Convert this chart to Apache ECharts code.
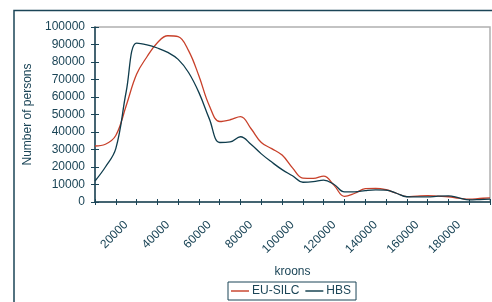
<html>
<head>
    <meta charset="utf-8" />
    <script src="https://cdn.jsdelivr.net/npm/echarts@6/dist/echarts.min.js"></script>
</head>
<body style="margin:0">
    <div id="main" style="width:492px;height:302px;"></div>
    <script>
        // income in kroons, one point every 5000
        var kroons = ['5000','10000','15000','20000','25000','30000','35000','40000','45000','50000',
            '55000','60000','65000','70000','75000','80000','85000','90000','95000','100000',
            '105000','110000','115000','120000','125000','130000','135000','140000','145000','150000',
            '155000','160000','165000','170000','175000','180000','185000','190000','195000'];
        var euSilc = [32000,33000,38000,55000,73000,83000,91000,95000,94500,86500,
            72000,55000,46000,47000,48800,42000,34000,30500,26800,19500,
            13600,13500,14800,9500,3200,5000,7600,7800,7000,5000,
            3100,3400,3600,3300,3000,2200,1600,2000,2400];
        var hbs = [12000,20000,30500,63000,90800,89800,88000,85500,81500,74000,
            62500,47500,34000,34300,37300,33000,27500,22800,18500,15000,
            11300,11600,12500,10000,5800,5800,6500,6900,6800,5000,
            3000,2900,2900,3300,3500,2400,1200,1400,1700];

        var textColor = '#1b4557';
        var axisColor = '#1b4557';

        function tickEvery(index) { return index % 2 === 0; }
        function labelEvery(index, value) {
            var v = Number(value);
            return v % 20000 === 0 && v <= 180000;
        }

        var myChart = echarts.init(document.getElementById('main'));
        var option = {
            animation: false,
            textStyle: { fontFamily: 'Liberation Sans, Arial, sans-serif' },
            graphic: [{
                type: 'rect',
                shape: { x: 14, y: 10.5, width: 600, height: 400 },
                style: { fill: 'none', stroke: axisColor, lineWidth: 1.5 },
                silent: true
            }],
            grid: {
                left: 95, right: 2, top: 27, bottom: 100,
                show: true, borderColor: '#b0b0b0', borderWidth: 1.5,
                containLabel: false
            },
            legend: {
                bottom: 2,
                left: 228,
                data: ['EU-SILC', 'HBS'],
                icon: 'path://M0,0 L1,0 L1,0.08 L0,0.08 Z',
                itemWidth: 18, itemHeight: 2,
                itemGap: 6,
                borderColor: axisColor, borderWidth: 1,
                padding: [3, 5, 3, 3],
                textStyle: { color: textColor, fontSize: 12, padding: [0, 0, 0, -2] }
            },
            xAxis: [{
                type: 'category',
                data: kroons,
                boundaryGap: false,
                name: 'kroons',
                nameLocation: 'middle',
                nameGap: 64,
                nameTextStyle: { color: textColor, fontSize: 12 },
                axisLine: { lineStyle: { color: axisColor, width: 1.5 } },
                axisTick: { interval: tickEvery, length: 3, lineStyle: { color: axisColor } },
                axisLabel: { interval: labelEvery, rotate: 45, margin: 21, color: textColor, fontSize: 12 },
                splitLine: { show: false }
            }, {
                type: 'category',
                data: kroons,
                boundaryGap: false,
                position: 'bottom',
                axisLine: { show: false },
                axisTick: { inside: true, interval: tickEvery, length: 3, lineStyle: { color: axisColor } },
                axisLabel: { show: false },
                splitLine: { show: false }
            }],
            yAxis: [{
                type: 'value',
                min: 0, max: 100000, interval: 10000,
                name: 'Number of persons',
                nameLocation: 'middle',
                nameGap: 53,
                nameTextStyle: { color: textColor, fontSize: 12 },
                axisLine: { show: true, lineStyle: { color: axisColor, width: 1.5 } },
                axisTick: { show: true, length: 4, lineStyle: { color: axisColor } },
                axisLabel: { margin: 10, color: textColor, fontSize: 12, formatter: function (v) { return String(v); } },
                splitLine: { show: false }
            }, {
                type: 'value',
                min: 0, max: 100000, interval: 10000,
                position: 'left',
                axisLine: { show: false },
                axisTick: { show: true, inside: true, length: 4, lineStyle: { color: axisColor } },
                axisLabel: { show: false },
                splitLine: { show: false }
            }],
            series: [{
                name: 'EU-SILC',
                type: 'line',
                data: euSilc,
                smooth: 0.4,
                symbol: 'none',
                lineStyle: { color: '#c8402a', width: 1.3 },
                itemStyle: { color: '#c8402a' }
            }, {
                name: 'HBS',
                type: 'line',
                data: hbs,
                smooth: 0.4,
                symbol: 'none',
                lineStyle: { color: '#0f3c4c', width: 1.3 },
                itemStyle: { color: '#0f3c4c' }
            }]
        };
        myChart.setOption(option);
    </script>
</body>
</html>
